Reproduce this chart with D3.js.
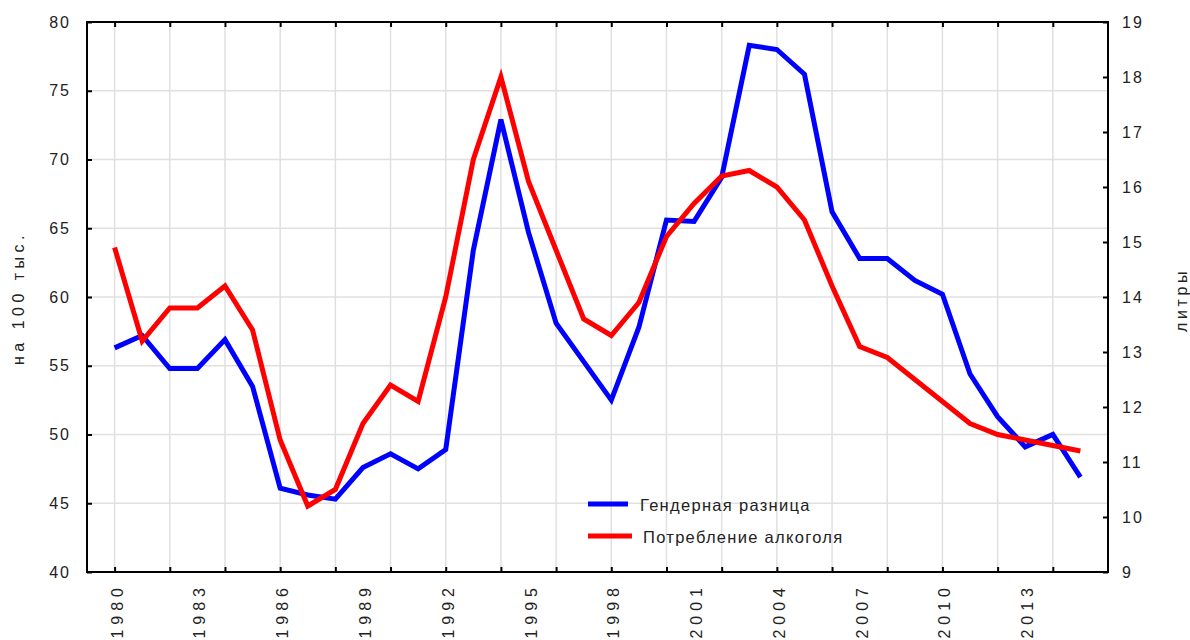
<!DOCTYPE html>
<html>
<head>
<meta charset="utf-8">
<script src="https://cdn.jsdelivr.net/npm/d3@7"></script>
<style>
  body { margin: 0; background: #fff; }
  text { font-family: "Liberation Sans", Arial, sans-serif; fill: #222; }
</style>
</head>
<body>
<svg width="1190" height="640"></svg>
<script>
var years = d3.range(1980, 2016);
// Гендерная разница (left axis, на 100 тыс.)
var gender = [56.3, 57.2, 54.8, 54.8, 56.9, 53.5, 46.1, 45.6, 45.3, 47.6,
  48.6, 47.5, 48.9, 63.4, 72.9, 64.7, 58.1, 55.3, 52.5, 57.8,
  65.6, 65.5, 68.7, 78.3, 78.0, 76.2, 66.2, 62.8, 62.8, 61.2,
  60.2, 54.4, 51.3, 49.1, 50.0, 46.9];
// Потребление алкоголя (right axis, литры)
var alcohol = [14.9, 13.2, 13.8, 13.8, 14.2, 13.4, 11.4, 10.2, 10.5, 11.7,
  12.4, 12.1, 14.0, 16.5, 18.0, 16.1, 14.85, 13.6, 13.3, 13.9,
  15.1, 15.7, 16.2, 16.3, 16.0, 15.4, 14.2, 13.1, 12.9, 12.5,
  12.1, 11.7, 11.5, 11.4, 11.3, 11.2];
var leftTicks = [40, 45, 50, 55, 60, 65, 70, 75, 80];
var rightTicks = [9, 10, 11, 12, 13, 14, 15, 16, 17, 18, 19];
var gridYears = d3.range(1980, 2015, 2);
var labelYears = d3.range(1980, 2014, 3);
var seriesNames = ["Гендерная разница", "Потребление алкоголя"];

var svg = d3.select("svg"),
  pLeft = 87, pRight = 1108, pTop = 22, pBottom = 572;

var x = d3.scaleLinear().domain([1979, 2016]).range([pLeft, pRight]);
var yL = d3.scaleLinear().domain([40, 80]).range([pBottom, pTop]);
var yR = d3.scaleLinear().domain([9, 19]).range([pBottom, pTop]);

// grid
svg.append("g").selectAll("line")
  .data(gridYears)
  .enter().append("line")
  .attr("x1", d => x(d)).attr("x2", d => x(d))
  .attr("y1", pTop).attr("y2", pBottom)
  .attr("stroke", "#e0e0e0").attr("stroke-width", 1.5);

svg.append("g").selectAll("line")
  .data(leftTicks.slice(1, -1))
  .enter().append("line")
  .attr("x1", pLeft).attr("x2", pRight)
  .attr("y1", d => yL(d)).attr("y2", d => yL(d))
  .attr("stroke", "#e0e0e0").attr("stroke-width", 1.5);

// axes
function styleAxis(g) {
  g.select(".domain").remove();
  g.selectAll(".tick line").attr("stroke", "#000").attr("stroke-width", 2);
  g.selectAll("text")
    .attr("font-size", "16px")
    .attr("letter-spacing", "2px")
    .style("fill", "#222");
}

svg.append("g")
  .attr("transform", "translate(" + pLeft + ",0)")
  .call(d3.axisLeft(yL).tickValues(leftTicks).tickSize(-5).tickPadding(16))
  .call(styleAxis);

svg.append("g")
  .attr("transform", "translate(" + pRight + ",0)")
  .call(d3.axisRight(yR).tickValues(rightTicks).tickSize(-5).tickPadding(14))
  .call(styleAxis);

svg.append("g")
  .attr("transform", "translate(0," + pBottom + ")")
  .call(d3.axisBottom(x).tickValues(gridYears).tickSize(-5).tickFormat(""))
  .call(styleAxis);

svg.append("g")
  .attr("transform", "translate(0," + pTop + ")")
  .call(d3.axisTop(x).tickValues(gridYears).tickSize(-5).tickFormat(""))
  .call(styleAxis);

// rotated year labels
svg.append("g").selectAll("text")
  .data(labelYears)
  .enter().append("text")
  .attr("transform", d => "translate(" + (x(d) + 8) + "," + (pBottom + 11) + ") rotate(-90)")
  .attr("text-anchor", "end")
  .attr("font-size", "16px")
  .attr("letter-spacing", "5px")
  .text(d => d);

// frame
svg.append("rect")
  .attr("x", pLeft).attr("y", pTop)
  .attr("width", pRight - pLeft).attr("height", pBottom - pTop)
  .attr("fill", "none").attr("stroke", "#000").attr("stroke-width", 2);

// axis titles
svg.append("text")
  .attr("transform", "translate(24,298) rotate(-90)")
  .attr("text-anchor", "middle")
  .attr("font-size", "16px")
  .attr("letter-spacing", "4.5px")
  .text("на 100 тыс.");

svg.append("text")
  .attr("transform", "translate(1187,300) rotate(-90)")
  .attr("text-anchor", "middle")
  .attr("font-size", "16px")
  .attr("letter-spacing", "3.6px")
  .text("литры");

// lines
var lineL = d3.line().x((d, i) => x(years[i])).y(d => yL(d));
var lineR = d3.line().x((d, i) => x(years[i])).y(d => yR(d));

svg.append("path")
  .datum(gender)
  .attr("d", lineL)
  .attr("fill", "none").attr("stroke", "#0000ff").attr("stroke-width", 5);

svg.append("path")
  .datum(alcohol)
  .attr("d", lineR)
  .attr("fill", "none").attr("stroke", "#ff0000").attr("stroke-width", 5);

// legend
var legend = svg.append("g");
var legendColors = ["#0000ff", "#ff0000"];
legend.selectAll("line")
  .data(seriesNames)
  .enter().append("line")
  .attr("x1", 588).attr("x2", (d, i) => i ? 632 : 628)
  .attr("y1", (d, i) => 504 + i * 32).attr("y2", (d, i) => 504 + i * 32)
  .attr("stroke", (d, i) => legendColors[i]).attr("stroke-width", 5);

legend.selectAll("text")
  .data(seriesNames)
  .enter().append("text")
  .attr("x", (d, i) => i ? 643 : 640)
  .attr("y", (d, i) => 511 + i * 32)
  .attr("font-size", "16.5px")
  .attr("letter-spacing", "1.3px")
  .text(d => d);
</script>
</body>
</html>
